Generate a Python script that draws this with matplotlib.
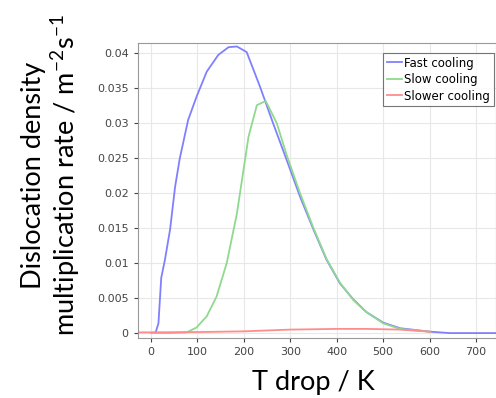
import matplotlib.pyplot as plt

plt.rcParams["mathtext.fontset"] = "custom"
plt.rcParams["mathtext.rm"] = "Lato"
plt.rcParams["mathtext.it"] = "Lato"

# Fast cooling
fast_t = [0, 10, 16, 22, 30, 41, 52, 62, 80, 98, 120, 145, 167, 185, 206, 235,
          263, 292, 321, 350, 378, 407, 436, 464, 500, 536, 601, 644, 750]
fast_rate = [0, 0.0001, 0.0014, 0.0079, 0.0105, 0.0148, 0.021, 0.025, 0.0305,
             0.0338, 0.0374, 0.0398, 0.0409, 0.041, 0.0402, 0.0352, 0.030,
             0.0248, 0.0195, 0.0148, 0.0105, 0.0071, 0.0048, 0.003, 0.0015,
             0.0007, 0.0002, 0.0, 0.0]

# Slow cooling
slow_t = [0, 40, 77, 98, 120, 141, 163, 185, 210, 228, 247, 271, 292, 321, 350,
          378, 407, 436, 464, 500, 536, 601]
slow_rate = [0, 0, 0.0001, 0.0008, 0.0024, 0.0052, 0.010, 0.0171, 0.0281, 0.0326,
             0.0332, 0.030, 0.0255, 0.020, 0.015, 0.0106, 0.0072, 0.0047, 0.003,
             0.0014, 0.0006, 0.0002]

# Slower cooling
slower_t = [-24, 105, 200, 300, 400, 465, 536, 601]
slower_rate = [0.0001, 0.00015, 0.00025, 0.0005, 0.0006, 0.0006, 0.0005, 0.0002]

xticks = [0, 100, 200, 300, 400, 500, 600, 700]
yticks = [0, 0.005, 0.01, 0.015, 0.02, 0.025, 0.03, 0.035, 0.04]
ytick_labels = ["0", "0.005", "0.01", "0.015", "0.02", "0.025", "0.03", "0.035", "0.04"]

fig = plt.figure(figsize=(4.96, 3.98), dpi=100)
ax = fig.add_axes([0.2776, 0.1508, 0.7224, 0.7412])

ax.plot(fast_t, fast_rate, color="#8080ff", lw=1.3, label="Fast cooling")
ax.plot(slow_t, slow_rate, color="#8fd98f", lw=1.3, label="Slow cooling")
ax.plot(slower_t, slower_rate, color="#ff8c8c", lw=1.3, label="Slower cooling")

ax.set_xlim(-28.7, 743)
ax.set_ylim(-0.0007, 0.0415)
ax.set_xticks(xticks)
ax.set_yticks(yticks)
ax.set_yticklabels(ytick_labels)
ax.tick_params(labelsize=8, colors="#444444", length=3, direction="out")
ax.grid(True, color="#e8e8e8", lw=0.8)
for s in ax.spines.values():
    s.set_color("#999999")

leg = ax.legend(loc="upper left", bbox_to_anchor=(383 / 496, 1 - 53 / 398),
                bbox_transform=fig.transFigure, fontsize=8.5, fancybox=False,
                handlelength=1.3, handletextpad=0.2, borderpad=0.3,
                labelspacing=0.3, borderaxespad=0)
leg.get_frame().set_edgecolor("#555555")
leg.get_frame().set_linewidth(0.8)

fig.text(0.104, 0.56, "Dislocation density\nmultiplication rate / m$^{-2}$s$^{-1}$",
         rotation=90, ha="center", va="center", fontsize=19.5, family="Lato",
         linespacing=1.1)
fig.text(0.631, 0.04, "T drop / K", ha="center", va="center", fontsize=19.5,
         family="Lato")

fig.savefig("out.png", dpi=100)
